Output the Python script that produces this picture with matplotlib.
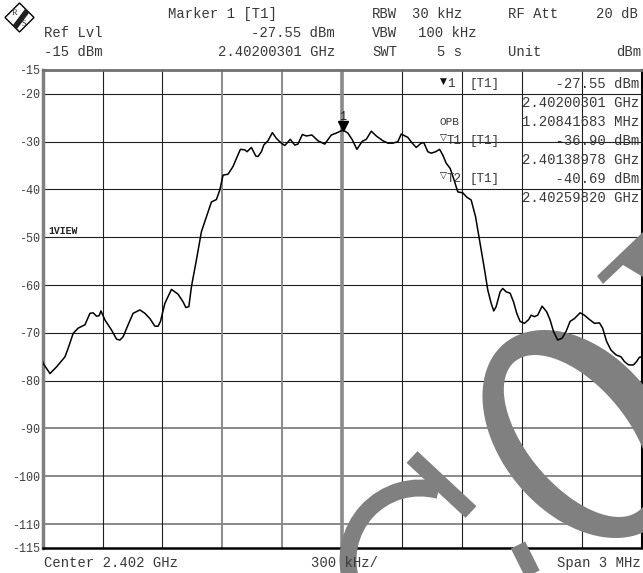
import matplotlib
matplotlib.use("Agg")
import matplotlib.pyplot as plt
import matplotlib.transforms as mtransforms
from matplotlib.patches import Arc, Polygon, PathPatch
from matplotlib.path import Path
import numpy as np

# ---------------- data ----------------
center_ghz = 2.402
span_mhz = 3.0
ref_level = -15
bottom_level = -115

# trace: frequency offset from center (MHz) and level (dBm)
freq_offset_mhz = [
    -1.500, -1.497, -1.463, -1.430, -1.388, -1.372, -1.347, -1.322, -1.288, -1.263,
    -1.247, -1.230, -1.217, -1.208, -1.188, -1.155, -1.130, -1.113, -1.097, -1.072,
    -1.047, -1.013, -0.988, -0.963, -0.938, -0.922, -0.910, -0.888, -0.855, -0.822,
    -0.797, -0.783, -0.768, -0.755, -0.730, -0.705, -0.680, -0.655, -0.630, -0.613,
    -0.597, -0.572, -0.547, -0.530, -0.510, -0.488, -0.477, -0.455, -0.433, -0.422,
    -0.405, -0.393, -0.372, -0.350, -0.330, -0.305, -0.288, -0.260, -0.238, -0.222,
    -0.200, -0.180, -0.152, -0.122, -0.088, -0.055, -0.030, 0.003, 0.028, 0.050,
    0.073, 0.100, 0.120, 0.145, 0.170, 0.203, 0.228, 0.253, 0.278, 0.295,
    0.328, 0.350, 0.370, 0.395, 0.408, 0.428, 0.445, 0.467, 0.487, 0.503,
    0.520, 0.540, 0.557, 0.578, 0.603, 0.623, 0.645, 0.667, 0.687, 0.712,
    0.728, 0.745, 0.758, 0.770, 0.790, 0.803, 0.820, 0.840, 0.857, 0.873,
    0.890, 0.912, 0.933, 0.945, 0.962, 0.978, 1.000, 1.023, 1.040, 1.057,
    1.078, 1.100, 1.120, 1.140, 1.162, 1.190, 1.212, 1.237, 1.262, 1.287,
    1.303, 1.323, 1.345, 1.370, 1.395, 1.412, 1.433, 1.457, 1.473, 1.487, 1.500,
]
level_dbm = [
    -76.0, -76.4, -78.5, -77.1, -75.0, -73.2, -70.1, -69.0, -68.3, -65.9,
    -65.8, -66.5, -66.4, -65.4, -67.3, -69.4, -71.3, -71.5, -70.8, -68.3,
    -65.9, -65.2, -65.9, -67.0, -68.6, -68.6, -67.6, -63.8, -60.9, -61.9,
    -63.5, -64.7, -64.5, -60.3, -54.7, -48.8, -45.7, -42.6, -42.1, -40.1,
    -37.0, -36.8, -35.2, -33.5, -31.6, -31.7, -32.1, -31.2, -33.0, -33.1,
    -32.1, -30.7, -29.8, -28.1, -29.3, -30.3, -30.8, -29.5, -30.7, -30.5,
    -28.5, -28.8, -28.6, -29.8, -30.5, -28.6, -28.2, -27.55, -28.2, -29.6,
    -31.6, -29.9, -29.5, -27.8, -28.8, -29.8, -30.3, -30.3, -30.0, -28.4,
    -29.1, -30.3, -31.2, -30.3, -30.2, -32.1, -32.4, -32.1, -31.6, -32.8,
    -34.5, -35.6, -37.7, -40.5, -40.7, -41.6, -42.2, -45.7, -50.6, -56.8,
    -61.0, -63.8, -65.4, -64.5, -61.4, -60.7, -61.4, -61.7, -63.5, -65.9,
    -67.6, -68.0, -67.2, -66.3, -66.6, -66.3, -64.4, -65.6, -67.3, -69.7,
    -71.5, -71.1, -69.7, -67.6, -67.0, -65.8, -66.3, -67.2, -68.0, -67.9,
    -69.0, -71.8, -73.6, -74.6, -75.0, -76.0, -76.7, -76.7, -76.0, -75.1, -75.0,
]

marker1_offset_mhz = 0.00301
marker1_level = -27.55

ytick_values = [-15, -20, -30, -40, -50, -60, -70, -80, -90, -100, -110, -115]
ytick_labels = ["-15", "-20", "-30", "-40", "-50", "-60", "-70", "-80", "-90", "-100", "-110", "-115"]
hgrid_levels = [-20, -30, -40, -50, -60, -70, -80, -90, -100, -110]
vgrid_offsets = [-1.2, -0.9, -0.6, -0.3, 0.0, 0.3, 0.6, 0.9, 1.2]

header_rows = [
    [("Marker 1 [T1]", 168), ("RBW", 372), ("30 kHz", 412), ("RF Att", 508), ("20 dB", 596)],
    [("Ref Lvl", 44), ("-27.55 dBm", 251), ("VBW", 372), ("100 kHz", 418)],
    [("-15 dBm", 44), ("2.40200301 GHz", 218), ("SWT", 372), ("5 s", 437), ("Unit", 508), ("dBm", 616)],
]
marker_table_values = [
    "    -27.55 dBm", "2.40200301 GHz", "1.20841683 MHz",
    "    -36.90 dBm", "2.40138978 GHz", "    -40.69 dBm", "2.40259820 GHz",
]
bottom_labels = [("Center 2.402 GHz", 44), ("300 kHz/", 311), ("Span 3 MHz", 557)]

# ---------------- figure ----------------
W, H = 643, 573
MONO = ["Liberation Mono", "DejaVu Sans Mono"]
TXT = "#383838"

fig = plt.figure(figsize=(W / 100, H / 100), dpi=100)
fig.patch.set_facecolor("white")
ax = fig.add_axes([42.6 / W, 1 - 548 / H, (642 - 42.6) / W, (548 - 70) / H])

def ptext(x, y, s, **kw):
    kw.setdefault("family", MONO)
    kw.setdefault("fontsize", 10)
    kw.setdefault("color", TXT)
    kw.setdefault("va", "center")
    fig.text(x / W, 1 - y / H, s, **kw)

ax.set_xlim(-span_mhz / 2, span_mhz / 2)
ax.set_ylim(bottom_level, ref_level)
ax.set_xticks([])
ax.set_yticks(ytick_values)
ax.set_yticklabels(ytick_labels, family=MONO, fontsize=8.5, color="#404040")
ax.tick_params(axis="y", length=0, pad=2)

for lv in hgrid_levels:
    if lv <= -90:
        ax.axhline(lv, color="#8a8a8a", lw=1.4, zorder=1)
    else:
        ax.axhline(lv, color="#202020", lw=0.8, zorder=1)
for fo in vgrid_offsets:
    if fo == 0.0:
        ax.axvline(fo, color="#8a8a8a", lw=2.6, zorder=1)
    elif fo in (-0.6, -0.3):
        ax.axvline(fo, color="#8a8a8a", lw=1.4, zorder=1)
    else:
        ax.axvline(fo, color="#202020", lw=0.8, zorder=1)

ax.spines["top"].set_color("#707070"); ax.spines["top"].set_linewidth(2)
ax.spines["left"].set_color("#808080"); ax.spines["left"].set_linewidth(2.5)
ax.spines["bottom"].set_color("#000000"); ax.spines["bottom"].set_linewidth(1.8)
ax.spines["right"].set_color("#000000"); ax.spines["right"].set_linewidth(1.5)

# watermark (image pixel coordinates, y down)
pix = mtransforms.Affine2D().scale(1, -1).translate(0, H)
WM = "#808080"

def ellipse_pts(cx, cy, a, b, ang_deg, n=180, reverse=False):
    t = np.linspace(0, 2 * np.pi, n)
    if reverse:
        t = t[::-1]
    c, s = np.cos(np.radians(ang_deg)), np.sin(np.radians(ang_deg))
    x = a * np.cos(t); y = b * np.sin(t)
    return np.column_stack([cx + x * c - y * s, cy + x * s + y * c])

outer = ellipse_pts(580, 434, 118, 80, 50)
inner = ellipse_pts(577, 436, 97, 50, 50, reverse=True)
verts = np.vstack([outer, inner])
codes = ([Path.MOVETO] + [Path.LINETO] * (len(outer) - 2) + [Path.CLOSEPOLY]) * 2
ax.add_patch(PathPatch(Path(verts, codes), fc=WM, ec="none", transform=pix, clip_on=False, zorder=3))
ax.add_patch(Arc((420, 560), 2 * 72, 2 * 72, theta1=160, theta2=285, ec=WM, lw=12.2,
                 transform=pix, clip_on=False, zorder=3))
ax.plot([412, 471], [457, 512], color=WM, lw=11.5, solid_capstyle="butt", transform=pix,
        clip_on=False, zorder=3)
ax.plot([518, 548], [545, 605], color=WM, lw=11.5, solid_capstyle="butt", transform=pix,
        clip_on=False, zorder=3)
ax.add_patch(Polygon([(597, 276), (643, 232), (643, 277), (623, 265), (603, 284)], closed=True,
                     fc=WM, ec="none", transform=pix, clip_on=False, zorder=3))

# trace
ax.plot(freq_offset_mhz, level_dbm, color="black", lw=1.1, zorder=5, clip_on=True)

# marker 1
mtr = mtransforms.offset_copy(ax.transData, fig=fig, x=0, y=4, units="dots")
ax.plot([marker1_offset_mhz], [marker1_level], marker="v", ms=7, color="black",
        transform=mtr, zorder=6, clip_on=False)
ax.annotate("1", (marker1_offset_mhz, marker1_level), xytext=(0, 13), textcoords="offset pixels",
            ha="center", va="center", fontsize=8.5, family=MONO, color="#202020", zorder=6)

# header
for yrow, row in zip([14, 33, 52], header_rows):
    for s, x in row:
        ptext(x, yrow, s)

# R&S logo
logo = Polygon([(19.5, 3), (34, 17.5), (19.5, 32), (5, 17.5)], closed=True, fc="white",
               ec="black", lw=1.0, transform=pix, clip_on=False, zorder=10)
fig.add_artist(logo)
band = Polygon([(13, 25), (25, 9), (29, 13), (17, 29)], closed=True, fc="#202020", ec="none",
               transform=pix, clip_on=False, zorder=11)
fig.add_artist(band)
ptext(15, 13, "R", fontsize=6, family="Liberation Serif", ha="center", zorder=12)
ptext(24, 24, "S", fontsize=6, family="Liberation Serif", ha="center", zorder=12)

# marker table
ptext(440, 81, "\u25BC", fontsize=6.5, family="DejaVu Sans", color="#101010")
ptext(447, 84, "1", fontsize=9)
ptext(470, 84, "[T1]", fontsize=9)
ptext(439, 122, "OPB", fontsize=8)
ptext(440, 138, "\u25BD", fontsize=6.5, family="DejaVu Sans", color="#101010")
ptext(447, 141, "T1", fontsize=9)
ptext(470, 141, "[T1]", fontsize=9)
ptext(440, 176, "\u25BD", fontsize=6.5, family="DejaVu Sans", color="#101010")
ptext(447, 179, "T2", fontsize=9)
ptext(470, 179, "[T1]", fontsize=9)
for y, s in zip([84, 103, 122, 141, 160, 179, 198], marker_table_values):
    ptext(522, y, s)

ptext(48, 231, "1VIEW", fontsize=7, weight="bold", color="#202020")

for s, x in bottom_labels:
    ptext(x, 563, s)

fig.savefig("out.png", dpi=100, facecolor="white")
